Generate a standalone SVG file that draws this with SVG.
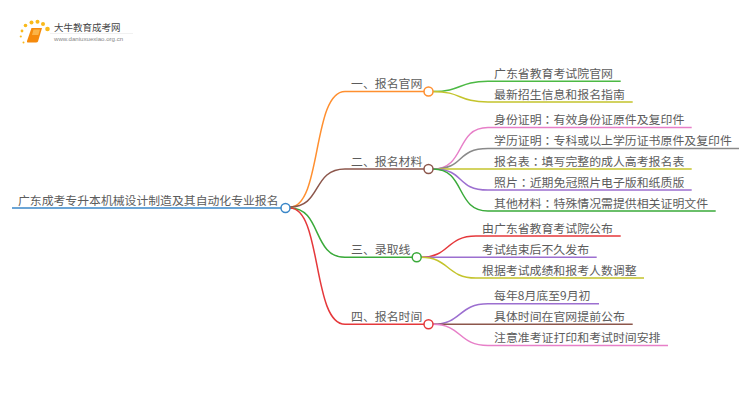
<svg xmlns="http://www.w3.org/2000/svg" width="750" height="410" viewBox="0 0 750 410">
<style>
text{font-family:"Noto Sans CJK SC","Liberation Sans",sans-serif;fill:#5c5c5c}
.r{font-size:11.850px}.b,.l{font-size:11.900px}
.c{font-family:"Noto Sans CJK TC","Liberation Sans",sans-serif}
#connectors path{fill:none;stroke-width:1.500}
circle{fill:#fff;stroke-width:1.500}
.lo{fill:#f9b91a;stroke:none}
</style>
<rect width="750" height="410" fill="#fff"/>
<g id="logo">
<circle class="lo" cx="22" cy="31" r="1.400"/><circle class="lo" cx="25.500" cy="25.500" r="1.800"/><circle class="lo" cx="31.500" cy="22.500" r="2"/><circle class="lo" cx="37.500" cy="21.800" r="2"/><circle class="lo" cx="43" cy="24" r="2"/><circle class="lo" cx="47.500" cy="29" r="2.300"/><circle class="lo" cx="20.800" cy="36.500" r="1.100"/><circle class="lo" cx="23.500" cy="42.500" r="1"/>
<path d="M31.500,28 H42 L38,41.500 Q37.500,42.500 36,42.500 H28 Q26.500,42.500 27,41 Z" fill="#f58a0c"/>
<path d="M33.500,29.500 H40 L38.300,35 H32 Z" fill="#fbb448"/>
<path d="M50,33.500 H133" stroke="#eee" stroke-width="0.800"/>
<text x="54" y="30.800" font-size="9.500" style="fill:#444">大牛教育成考网</text>
<text x="54" y="41" font-size="6.100" style="font-family:'Liberation Sans',sans-serif;fill:#888">www.daniuxuexiao.org.cn</text>
</g>
<g id="connectors">
<path stroke="#3a87c8" d="M12,208 H281"/>
<path stroke="#ff8f2f" d="M290,207 C322,207 312,91.500 345,91.500 H424"/>
<path stroke="#8c564b" d="M290,207 C322,207 312,169 345,169 H424"/>
<path stroke="#3aaa3a" d="M290,208 C322,208 312,257.300 345,257.300 H412"/>
<path stroke="#e5383b" d="M290,208 C322,208 312,324.300 345,324.300 H424"/>
<path stroke="#4cb944" d="M433,91.500 C462,91.500 458,81.300 488,81.300 H620.700"/>
<path stroke="#c4c42c" d="M433,91.500 C462,91.500 458,102 488,102 H632.700"/>
<path stroke="#e77fc8" d="M433,169 C466,169 455,127.500 488,127.500 H691.700"/>
<path stroke="#8a8a8a" d="M433,169 C466,169 455,148.500 488,148.500 H739"/>
<path stroke="#c4c42c" d="M433,169 H691.700"/>
<path stroke="#9c6fd0" d="M433,169 C466,169 455,190 488,190 H691.700"/>
<path stroke="#3aaa3a" d="M433,169 C466,169 455,211 488,211 H715.700"/>
<path stroke="#e5383b" d="M421,257.300 C450,257.300 446,236 476,236 H620.700"/>
<path stroke="#9c6fd0" d="M421,257.300 H596.700"/>
<path stroke="#c4c42c" d="M421,257.300 C450,257.300 446,278 476,278 H644"/>
<path stroke="#9c6fd0" d="M433,324.300 C462,324.300 458,303.700 488,303.700 H599"/>
<path stroke="#8c564b" d="M433,324.300 H632.700"/>
<path stroke="#e77fc8" d="M433,324.300 C462,324.300 458,345.500 488,345.500 H668"/>
</g>
<g id="root"><text class="r" x="18" y="204.500">广东成考专升本机械设计制造及其自动化专业报名</text><circle cx="285.500" cy="208" r="4.500" stroke="#3a87c8"/></g>
<g id="b1"><text class="b" x="351" y="88">一、报名官网</text><circle cx="428.500" cy="91.500" r="4.500" stroke="#ff8f2f"/></g>
<g id="b2"><text class="b" x="351" y="165.500">二、报名材料</text><circle cx="428.500" cy="169" r="4.500" stroke="#8c564b"/></g>
<g id="b3"><text class="b" x="351" y="254">三、录取线</text><circle cx="416.700" cy="257.300" r="4.500" stroke="#3aaa3a"/></g>
<g id="b4"><text class="b" x="351" y="321">四、报名时间</text><circle cx="428.500" cy="324.300" r="4.500" stroke="#e5383b"/></g>
<g id="l11"><text class="l" x="494" y="78">广东省教育考试院官网</text></g>
<g id="l12"><text class="l" x="494" y="98.500">最新招生信息和报名指南</text></g>
<g id="l21"><text class="l" x="494" y="124">身份证明<tspan class="c">：</tspan>有效身份证原件及复印件</text></g>
<g id="l22"><text class="l" x="494" y="145">学历证明<tspan class="c">：</tspan>专科或以上学历证书原件及复印件</text></g>
<g id="l23"><text class="l" x="494" y="165.500">报名表<tspan class="c">：</tspan>填写完整的成人高考报名表</text></g>
<g id="l24"><text class="l" x="494" y="186.500">照片<tspan class="c">：</tspan>近期免冠照片电子版和纸质版</text></g>
<g id="l25"><text class="l" x="494" y="207.500">其他材料<tspan class="c">：</tspan>特殊情况需提供相关证明文件</text></g>
<g id="l31"><text class="l" x="482" y="233">由广东省教育考试院公布</text></g>
<g id="l32"><text class="l" x="482" y="254">考试结束后不久发布</text></g>
<g id="l33"><text class="l" x="482" y="274.500">根据考试成绩和报考人数调整</text></g>
<g id="l41"><text class="l" x="494" y="300">每年8月底至9月初</text></g>
<g id="l42"><text class="l" x="494" y="321">具体时间在官网提前公布</text></g>
<g id="l43"><text class="l" x="494" y="342">注意准考证打印和考试时间安排</text></g>
</svg>
